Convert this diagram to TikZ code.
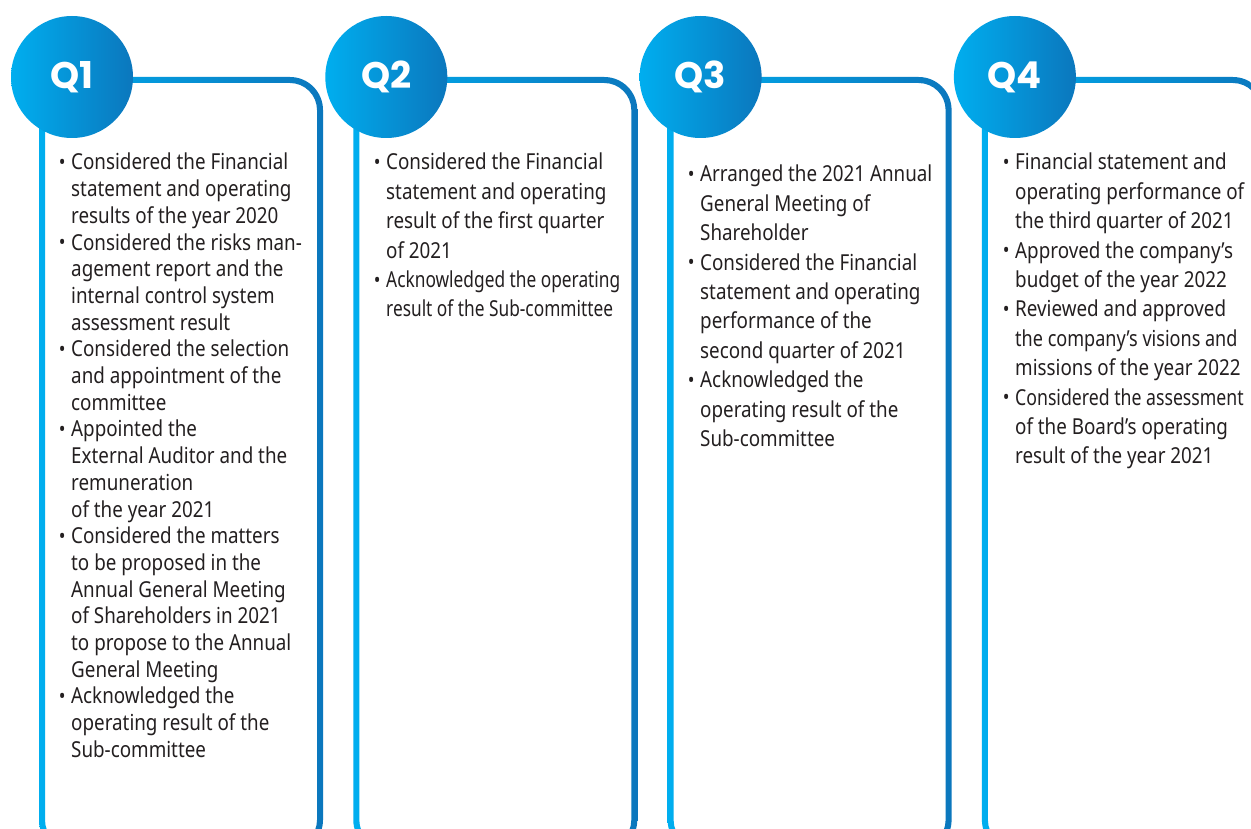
\documentclass[tikz,border=0pt]{standalone}
\usepackage{fontspec}
\setmainfont{Noto Sans}[FakeStretch=0.855]
\newfontfamily\qfont{Poppins}
\definecolor{cyanL}{HTML}{00AEEF}
\definecolor{blueD}{HTML}{0B77BD}
\definecolor{ink}{HTML}{231F20}
\newcommand\itm{\leavevmode\llap{\raisebox{0.05ex}{\scalebox{0.95}{\textbullet}}\hspace{5.5pt}}}
\newcommand\colbox[2]{\parbox[t]{280pt}{\fontsize{22}{#1}\selectfont #2}}
\newcommand\narrow[2][0.92]{\scalebox{#1}[1]{#2}}
\tikzset{
  frameband/.style={left color=cyanL, right color=blueD, even odd rule},
  qbadge/.style={circle, minimum size=122pt, inner sep=0pt, shade,
    left color=cyanL, right color=blueD, text=white,
    font=\qfont\bfseries\fontsize{37}{37}\selectfont},
  itemlist/.style={anchor=base west, inner sep=0pt, text=ink},
}
\begin{document}
\begin{tikzpicture}[x=1pt, y=-1pt]
\clip (0,0) rectangle (1251,829);
\fill[white] (0,0) rectangle (1251,829);
% quarter frames: a rounded band shaded from cyan to blue
\foreach \dx in {0,314.3,628.6,942.9}{
  \begin{scope}[xshift=\dx pt]
    \shade[frameband] [rounded corners=33pt] (39,77) rectangle (323,853)
                      [rounded corners=27pt] (45,83) rectangle (317,847);
  \end{scope}
}
% quarter badges
\node[qbadge] (q1) at (72,77)     {Q1};
\node[qbadge] (q2) at (386.3,77)  {Q2};
\node[qbadge] (q3) at (700.6,77)  {Q3};
\node[qbadge] (q4) at (1014.9,77) {Q4};
% agenda items
\node[itemlist] (l1) at (71,170) {\colbox{26.7}{%
\itm Considered the Financial\\
statement and operating\\
results of the year 2020\\
\itm Considered the risks man-\\
agement report and the\\
internal control system\\
assessment result\\
\itm Considered the selection\\
and appointment of the\\
committee\\
\itm Appointed the\\
External Auditor and the\\
remuneration\\
of the year 2021\\
\itm Considered the matters\\
to be proposed in the\\
Annual General Meeting\\
of Shareholders in 2021\\
to propose to the Annual\\
General Meeting\\
\itm Acknowledged the\\
operating result of the\\
Sub-committee}};
\node[itemlist] (l2) at (386,170) {\colbox{29.4}{%
\itm Considered the Financial\\
statement and operating\\
result of the first quarter\\
of 2021\\
\itm \narrow{Acknowledged the operating}\\
\narrow{result of the Sub-committee}}};
\node[itemlist] (l3) at (700,182) {\colbox{29.4}{%
\itm Arranged the 2021 Annual\\
General Meeting of\\
Shareholder\\
\itm Considered the Financial\\
statement and operating\\
performance of the\\
second quarter of 2021\\
\itm Acknowledged the\\
operating result of the\\
Sub-committee}};
\node[itemlist] (l4) at (1015,170) {\colbox{29.4}{%
\itm Financial statement and\\
operating performance of\\
the third quarter of 2021\\
\itm Approved the company’s\\
budget of the year 2022\\
\itm Reviewed and approved\\
\narrow[0.96]{the company’s visions and}\\
missions of the year 2022\\
\itm \narrow[0.94]{Considered the assessment}\\
of the Board’s operating\\
result of the year 2021}};
\end{tikzpicture}
\end{document}
